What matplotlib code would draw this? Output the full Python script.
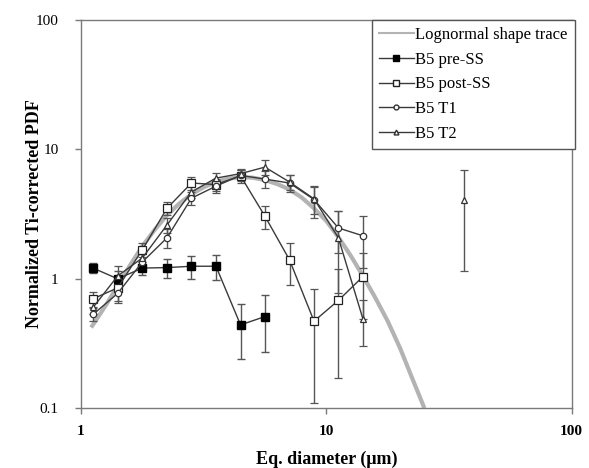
import numpy as np
import matplotlib
matplotlib.use("Agg")
import matplotlib.pyplot as plt
from matplotlib.lines import Line2D

# ---------------- data ----------------
bins = [1.12, 1.41, 1.78, 2.24, 2.82, 3.55, 4.47, 5.62, 7.08, 8.91, 11.2, 14.1]

pre_y = [1.21, 1.00, 1.21, 1.22, 1.25, 1.25, 0.44, 0.51]
pre_err = [0.11, 0.15, 0.15, 0.20, 0.25, 0.28, 0.20, 0.24]

post_y = [0.70, 0.85, 1.68, 3.50, 5.50, 5.35, 6.25, 3.05, 1.40, 0.47, 0.68, 1.04]
post_err = [0.09, 0.20, 0.20, 0.40, 0.60, 0.60, 0.70, 0.63, 0.50, 0.36, 0.51, 0.55]

t1_y = [0.53, 0.77, 1.35, 2.07, 4.20, 5.20, 6.30, 5.90, 5.50, 4.10, 2.47, 2.15]
t1_err = [0.06, 0.10, 0.20, 0.35, 0.50, 0.60, 0.60, 0.90, 0.80, 1.15, 0.90, 0.93]

t2_y = [0.60, 1.05, 1.45, 2.60, 4.70, 6.00, 6.50, 7.30, 5.60, 4.15, 2.07, 0.49]
t2_err = [0.07, 0.20, 0.20, 0.35, 0.50, 0.60, 0.50, 1.00, 0.70, 1.00, 1.30, 0.19]
t2_extra_x = [36.5]
t2_extra_y = [4.05]
t2_extra_err = [2.9]

trace_x = [1.10, 1.26, 1.41, 1.58, 1.78, 2.00, 2.24, 2.51, 2.82, 3.16, 3.55, 3.98,
           4.47, 5.01, 5.62, 6.31, 7.08, 7.94, 8.91, 10.0, 11.2, 12.6, 14.1, 15.8,
           17.8, 20.0, 22.4, 25.1]
trace_y = [0.42, 0.62, 0.88, 1.26, 1.79, 2.40, 3.10, 3.80, 4.50, 5.10, 5.60, 5.95,
           6.10, 6.05, 5.80, 5.40, 4.90, 4.25, 3.50, 2.80, 2.10, 1.50, 1.05, 0.72,
           0.47, 0.29, 0.17, 0.10]

labels = ["Lognormal shape trace", "B5 pre-SS", "B5 post-SS", "B5 T1", "B5 T2"]
xticks = [1, 10, 100]
xtick_labels = ["1", "10", "100"]
yticks = [0.1, 1, 10, 100]
ytick_labels = ["0.1", "1", "10", "100"]

# ---------------- style ----------------
plt.rcParams['font.family'] = ['Liberation Serif', 'DejaVu Serif']

fig = plt.figure(figsize=(5.89, 4.68), dpi=100)
ax = fig.add_axes([0.1375, 0.128, 0.833, 0.829])

spine_col = '#7a7a7a'
line_col = '#3a3a3a'
err_col = '#555555'

ax.plot(trace_x, trace_y, color='#b3b3b3', lw=3.0, zorder=1, solid_capstyle='butt')

common = dict(color=line_col, lw=1.0, ecolor=err_col, elinewidth=1.0,
              capsize=2.6, capthick=1.0, zorder=3)

ax.errorbar(bins[:len(pre_y)], pre_y, yerr=pre_err, marker='s', ms=5.2,
            mfc='black', mec='black', **common)
ax.errorbar(bins, post_y, yerr=post_err, marker='s', ms=5.5,
            mfc='white', mec='#222222', mew=0.9, **common)
ax.errorbar(bins, t1_y, yerr=t1_err, marker='o', ms=4.6,
            mfc='white', mec='#333333', mew=0.9, **common)
ax.errorbar(bins, t2_y, yerr=t2_err, marker='^', ms=4.8,
            mfc='white', mec='#333333', mew=0.9, **common)
ax.errorbar(t2_extra_x, t2_extra_y, yerr=t2_extra_err, marker='^', ms=4.8,
            mfc='white', mec='#333333', mew=0.9, ls='none', color=line_col,
            ecolor=err_col, elinewidth=1.0, capsize=2.6, capthick=1.0, zorder=3)

ax.set_xscale('log')
ax.set_yscale('log')
ax.set_xlim(1, 100)
ax.set_ylim(0.1, 100)
ax.set_xticks(xticks)
ax.set_xticklabels(xtick_labels, fontsize=11, fontweight='bold')
ax.set_yticks(yticks)
ax.set_yticklabels(ytick_labels, fontsize=11)
ax.minorticks_off()
ax.tick_params(axis='both', direction='out', length=4, width=1, color=spine_col)
ax.tick_params(axis='y', pad=12)
ax.tick_params(axis='x', pad=8)
for s in ax.spines.values():
    s.set_color(spine_col)
    s.set_linewidth(1.0)

ax.set_xlabel("Eq. diameter (\u03bcm)", fontsize=13, fontweight='bold', labelpad=9)
ax.set_ylabel("Normalized Ti-corrected PDF", fontsize=13, fontweight='bold', labelpad=-5)

handles = [
    Line2D([], [], color='#b3b3b3', lw=1.5),
    Line2D([], [], color=line_col, lw=1, marker='s', ms=4, mfc='black', mec='black'),
    Line2D([], [], color=line_col, lw=1, marker='s', ms=4, mfc='white', mec='#222222'),
    Line2D([], [], color=line_col, lw=1, marker='o', ms=3.5, mfc='white', mec='#333333'),
    Line2D([], [], color=line_col, lw=1, marker='^', ms=3.5, mfc='white', mec='#333333'),
]
leg = ax.legend(handles, labels, loc='upper right', bbox_to_anchor=(1.006, 1.0),
                fontsize=12, frameon=True, fancybox=False, framealpha=1,
                edgecolor='#555555', handlelength=2.1, handletextpad=0.1,
                labelspacing=0.52, borderpad=0.42, borderaxespad=0)
leg.get_frame().set_linewidth(1.0)
leg.set_zorder(5)

fig.savefig("out.png", dpi=100, facecolor='white')
